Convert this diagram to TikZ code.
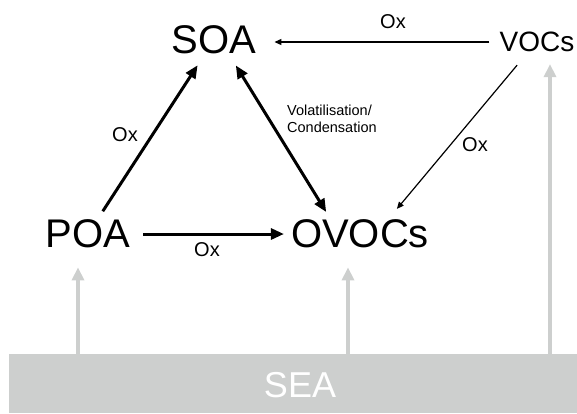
\documentclass[tikz,border=0pt]{standalone}
\usepackage{fontspec}
\setmainfont{Liberation Sans}
\usetikzlibrary{arrows.meta}
\definecolor{seagray}{HTML}{CDCFCE}
\newcommand{\fsz}[2]{\fontsize{#1}{#2}\selectfont}
\begin{document}
\begin{tikzpicture}[x=1pt,y=-1pt,line join=round,
	species/.style={inner sep=0pt,font=\fsz{40}{48}},
	oxlabel/.style={inner sep=0pt,font=\fsz{20}{24}},
	thickarrow/.style={line width=3pt,-{Triangle[length=13pt,width=11pt]}},
	thickboth/.style={line width=3pt,{Triangle[length=13pt,width=11pt]}-{Triangle[length=13pt,width=11pt]}},
	thinarrow/.style={line width=1.2pt,-{Triangle[length=7pt,width=6pt]}},
	seaflux/.style={seagray,line width=4pt,-{Triangle[length=13pt,width=12pt]}}]
	\useasboundingbox (0,0) rectangle (577,413);
	% species
	\node[species] (SOA) at (214,40) {SOA};
	\node[species] (POA) at (88,234) {POA};
	\node[species] (OVOCs) at (360,234) {OVOCs};
	\node[species,font=\fsz{28}{34}] (VOCs) at (537,42) {VOCs};
	% sea
	\node[fill=seagray,minimum width=568pt,minimum height=59pt,inner sep=0pt] (sea) at (293,383.5) {};
	\node[inner sep=0pt,text=white,font=\fsz{36}{40}] (sealabel) at (300,385) {SEA};
	\coordinate (f1) at (78,354);
	\coordinate (f2) at (348,354);
	\coordinate (f3) at (550,354);
	% reactions
	\draw[thinarrow,shorten <=10pt,shorten >=18pt] (VOCs.west) -- (VOCs.west -| SOA.east);
	\draw[thickarrow,shorten <=10pt,shorten >=13pt] (POA) -- (SOA);
	\draw[thickboth,shorten <=13pt,shorten >=9pt] ([xshift=15pt]SOA.south) -- ([xshift=40pt]OVOCs.north west);
	\draw[thickarrow,shorten <=13pt,shorten >=7pt] (POA.east) -- (POA.east -| OVOCs.west);
	\draw[thinarrow,shorten <=17pt,shorten >=14pt] ([xshift=-9pt]VOCs.south) -- ([xshift=97pt]OVOCs.north west);
	% emissions
	\draw[seaflux,shorten >=19pt] (f1) -- (f1 |- POA.south);
	\draw[seaflux,shorten >=19pt] (f2) -- (f2 |- OVOCs.south);
	\draw[seaflux,shorten >=12pt] (f3) -- (f3 |- VOCs.south);
	% labels
	\node[oxlabel] (oxtop) at (393,22) {Ox};
	\node[oxlabel] (oxleft) at (125,135) {Ox};
	\node[oxlabel] (oxbottom) at (207,250) {Ox};
	\node[oxlabel] (oxright) at (475,145) {Ox};
	\node[anchor=north west,align=left,inner sep=0pt,font=\fsz{14.5}{17}] (volcon) at (287,105) {Volatilisation/\\Condensation};
\end{tikzpicture}
\end{document}
